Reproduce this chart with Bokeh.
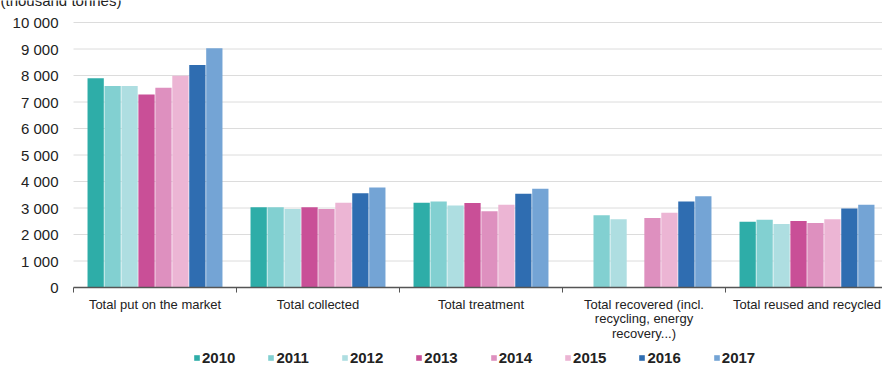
from bokeh.plotting import figure
from bokeh.models import ColumnDataSource, Range1d, Legend, LegendItem, Label
from bokeh.core.properties import value
from bokeh.transform import dodge
from bokeh.embed import file_html
from bokeh.resources import INLINE

NaN = float("nan")

categories = ["Total put on the market", "Total collected", "Total treatment",
              "Total recovered (incl.\nrecycling, energy\nrecovery...)", "Total reused and recycled"]
years = ["2010", "2011", "2012", "2013", "2014", "2015", "2016", "2017"]

v2010 = [7900, 3025, 3200, NaN, 2480]
v2011 = [7600, 3025, 3250, 2730, 2560]
v2012 = [7600, 2965, 3090, 2580, 2400]
v2013 = [7280, 3025, 3190, NaN, 2510]
v2014 = [7540, 2965, 2875, 2620, 2430]
v2015 = [7990, 3200, 3125, 2825, 2580]
v2016 = [8400, 3560, 3540, 3250, 2980]
v2017 = [9030, 3770, 3730, 3440, 3120]

colors = ["#2EADA8", "#82D0D1", "#AEDEE1", "#C94F97", "#DE90BF", "#ECB5D4", "#2F6DB1", "#74A4D5"]

y_ticks = [0, 1000, 2000, 3000, 4000, 5000, 6000, 7000, 8000, 9000, 10000]
y_tick_labels = ["0", "1 000", "2 000", "3 000", "4 000", "5 000", "6 000", "7 000", "8 000", "9 000", "10 000"]

series = [v2010, v2011, v2012, v2013, v2014, v2015, v2016, v2017]
n = len(categories)
centers = [i + 0.5 for i in range(n)]
boundaries = list(range(n + 1))
data = {"x": centers}
for y, s in zip(years, series):
    data[y] = s
source = ColumnDataSource(data)

FONT = value("Liberation Sans")
TXT = "#222222"

# one frame covering the whole canvas; axes drawn from the data lists
p = figure(width=882, height=366, output_backend="svg", toolbar_location=None,
           x_range=Range1d(-73 / 163, 809 / 163), y_range=Range1d(-79 / 0.0265, 287 / 0.0265),
           x_axis_location=None, y_axis_location=None,
           min_border_left=0, min_border_right=0, min_border_top=0, min_border_bottom=0)
p.outline_line_color = None
p.grid.visible = False

# grid lines
p.segment(x0=[boundaries[0]] * (len(y_ticks) - 1), x1=[boundaries[-1]] * (len(y_ticks) - 1),
          y0=y_ticks[1:], y1=y_ticks[1:], line_color="#dcdcdc", line_width=1)

step = 0.104
renderers = []
for j, (y, c) in enumerate(zip(years, colors)):
    r = p.vbar(x=dodge("x", (j - 3.5) * step, range=p.x_range), top=y, width=step * 0.96,
               source=source, fill_color=c, line_color=None)
    renderers.append(r)

# x axis line and boundary ticks
p.segment(x0=[boundaries[0]], x1=[boundaries[-1]], y0=[0], y1=[0], line_color="#555555", line_width=1.5)
p.segment(x0=boundaries, x1=boundaries, y0=[0] * len(boundaries), y1=[-190] * len(boundaries),
          line_color="#555555", line_width=1)

# category labels
p.text(x=centers, y=[0] * n, text=categories, y_offset=9, text_align="center", text_baseline="top",
       text_font=FONT, text_font_size="13px", text_color=TXT, text_line_height=0.99)

# y tick labels
p.text(x=[boundaries[0]] * len(y_ticks), y=y_ticks, text=y_tick_labels, x_offset=-15,
       text_align="right", text_baseline="middle", text_font=FONT, text_font_size="15px",
       text_color=TXT)

p.add_layout(Label(x=0, x_units="screen", y=358, y_units="screen", text="(thousand tonnes)",
                   text_font="Liberation Sans", text_font_size="15px", text_color=TXT,
                   text_baseline="bottom"))

legend = Legend(items=[LegendItem(label=y, renderers=[r]) for y, r in zip(years, renderers)],
                orientation="horizontal", location=(193, 0), glyph_width=7, glyph_height=7,
                label_standoff=2, spacing=32, padding=0, margin=0, label_height=18,
                label_text_font="Liberation Sans", label_text_font_style="bold",
                label_text_font_size="15px", label_text_color=TXT,
                border_line_color=None, background_fill_alpha=0)
p.add_layout(legend, "center")

open("out.html", "w").write(file_html(p, INLINE))
